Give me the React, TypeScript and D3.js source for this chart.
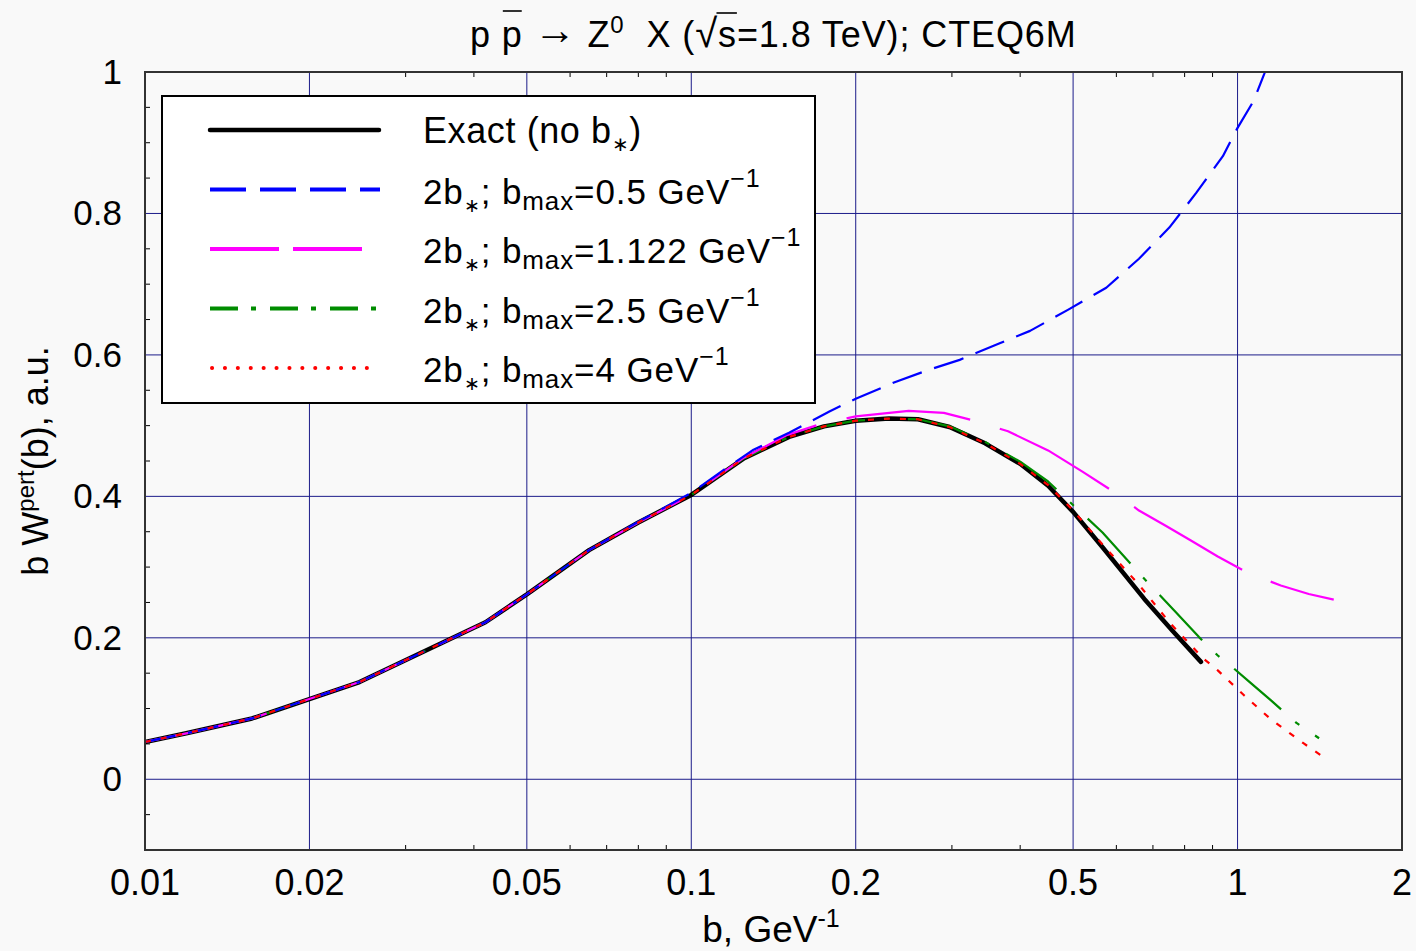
import React, { useLayoutEffect, useRef, useState } from "react";
import * as d3 from "d3";

// ---- data ----
const bExact = [0.01, 0.0119, 0.0157, 0.0247, 0.042, 0.05, 0.065, 0.08, 0.1, 0.125, 0.151, 0.175, 0.2, 0.23, 0.26, 0.297, 0.345, 0.4, 0.45, 0.5, 0.566, 0.675, 0.76, 0.857];
const wExact = [0.0527, 0.065, 0.086, 0.1375, 0.222, 0.2615, 0.324, 0.363, 0.402, 0.454, 0.484, 0.499, 0.507, 0.51, 0.509, 0.498, 0.475, 0.446, 0.415, 0.378, 0.328, 0.255, 0.21, 0.166];

const bB05 = [0.01, 0.0119, 0.0157, 0.0247, 0.042, 0.05, 0.065, 0.08, 0.1, 0.115, 0.13, 0.151, 0.179, 0.2, 0.235, 0.27, 0.31, 0.366, 0.417, 0.49, 0.575, 0.66, 0.75, 0.84, 0.94, 1.0, 1.07, 1.12, 1.16];
const wB05 = [0.0527, 0.065, 0.086, 0.1375, 0.222, 0.2615, 0.324, 0.364, 0.405, 0.438, 0.466, 0.49, 0.52, 0.538, 0.561, 0.578, 0.593, 0.616, 0.634, 0.664, 0.695, 0.736, 0.78, 0.829, 0.881, 0.921, 0.959, 0.998, 1.04];

const bB112 = [0.01, 0.0119, 0.0157, 0.0247, 0.042, 0.05, 0.065, 0.08, 0.1, 0.125, 0.15, 0.172, 0.2, 0.25, 0.29, 0.33, 0.38, 0.45, 0.52, 0.6, 0.66, 0.74, 0.82, 0.92, 1.05, 1.2, 1.35, 1.5];
const wB112 = [0.0527, 0.065, 0.086, 0.1375, 0.222, 0.2615, 0.324, 0.363, 0.402, 0.455, 0.487, 0.502, 0.513, 0.521, 0.518, 0.507, 0.492, 0.465, 0.435, 0.404, 0.38, 0.358, 0.338, 0.315, 0.291, 0.274, 0.262, 0.254];

const bB25 = [0.01, 0.0119, 0.0157, 0.0247, 0.042, 0.05, 0.065, 0.08, 0.1, 0.125, 0.151, 0.175, 0.2, 0.23, 0.26, 0.297, 0.345, 0.4, 0.45, 0.49, 0.566, 0.67, 0.765, 0.85, 0.92, 0.98, 1.05, 1.15, 1.28, 1.41];
const wB25 = [0.0527, 0.065, 0.086, 0.1375, 0.222, 0.2615, 0.324, 0.363, 0.402, 0.454, 0.484, 0.499, 0.507, 0.51, 0.509, 0.499, 0.477, 0.449, 0.421, 0.394, 0.349, 0.286, 0.239, 0.201, 0.175, 0.158, 0.138, 0.112, 0.08, 0.058];

const bB4 = [0.01, 0.0119, 0.0157, 0.0247, 0.042, 0.05, 0.065, 0.08, 0.1, 0.125, 0.151, 0.175, 0.2, 0.23, 0.26, 0.297, 0.345, 0.4, 0.45, 0.5, 0.566, 0.66, 0.75, 0.865, 0.92, 1.03, 1.15, 1.32, 1.42];
const wB4 = [0.0527, 0.065, 0.086, 0.1375, 0.222, 0.2615, 0.324, 0.363, 0.402, 0.454, 0.484, 0.499, 0.507, 0.51, 0.509, 0.498, 0.475, 0.446, 0.416, 0.38, 0.332, 0.275, 0.222, 0.171, 0.154, 0.118, 0.085, 0.051, 0.034];

const legendValues = ["0.5", "1.122", "2.5", "4"];
const xMajor = [0.01, 0.02, 0.05, 0.1, 0.2, 0.5, 1, 2];
const xMajorLabels = ["0.01", "0.02", "0.05", "0.1", "0.2", "0.5", "1", "2"];
const xMinor = [0.03, 0.04, 0.06, 0.07, 0.08, 0.09, 0.3, 0.4, 0.6, 0.7, 0.8, 0.9];
const yMajor = [0, 0.2, 0.4, 0.6, 0.8, 1];
const yMajorLabels = ["0", "0.2", "0.4", "0.6", "0.8", "1"];
const yMinor = [-0.05, 0.05, 0.1, 0.15, 0.25, 0.3, 0.35, 0.45, 0.5, 0.55, 0.65, 0.7, 0.75, 0.85, 0.9, 0.95];

const FONT = "'Liberation Sans', Arial, Helvetica, sans-serif";
const GRID = "#1c1c8a";

const L = 145, R = 1402, T = 72, B = 850;

export default function App() {
  const x = d3.scaleLog().domain([0.01, 2]).range([L, R]);
  const y = d3.scaleLinear().domain([-0.1, 1]).range([B, T]);
  const line = d3
    .line<[number, number]>()
    .x((d) => x(d[0]))
    .y((d) => y(d[1]))
    .curve(d3.curveLinear);
  const zip = (bs: number[], ws: number[]) => bs.map((b, i) => [b, ws[i]] as [number, number]);

  const series = [
    { b: bExact, w: wExact, color: "#000000", width: 4.5, dash: "none", legDash: "none", legEnd: 379 },
    { b: bB25, w: wB25, color: "#008c00", width: 2.2, dash: "62,19,5,19", legDash: "28,13,5,14", legEnd: 378 },
    { b: bB112, w: wB112, color: "#ff00ff", width: 2.2, dash: "125,31", legDash: "69,14", legEnd: 362 },
    { b: bB05, w: wB05, color: "#0000ff", width: 2.2, dash: "31,13", legDash: "36,14", legEnd: 380 },
    { b: bB4, w: wB4, color: "#ff0000", width: 2.2, dash: "6,10", legDash: "0.1,12.8", legEnd: 367 },
  ];
  const legendOrder = [0, 3, 2, 1, 4];

  const titleRef = useRef<SVGTextElement>(null);
  const [bars, setBars] = useState<null | { p0: number; p1: number; s0: number; s1: number }>(null);
  useLayoutEffect(() => {
    const t = titleRef.current;
    if (!t) return;
    const s = t.textContent || "";
    const ip = s.indexOf("p", 1);
    const iq = s.indexOf("\u221A");
    try {
      setBars({
        p0: t.getStartPositionOfChar(ip).x,
        p1: t.getEndPositionOfChar(ip).x,
        s0: t.getEndPositionOfChar(iq).x - 1.5,
        s1: t.getEndPositionOfChar(iq + 1).x,
      });
    } catch (e) {
      /* ignore */
    }
  }, []);

  return (
    <svg
      width={1416}
      height={951}
      style={{ position: "absolute", left: 0, top: 0, fontFamily: FONT }}
    >
      <rect x={0} y={0} width={1416} height={951} fill="#f9f9f9" />
      <defs>
        <clipPath id="plotclip">
          <rect x={L} y={T} width={R - L} height={B - T} />
        </clipPath>
      </defs>

      {/* grid */}
      {xMajor.slice(1, -1).map((v) => (
        <line key={"gx" + v} x1={x(v)} x2={x(v)} y1={T} y2={B} stroke={GRID} strokeWidth={1} />
      ))}
      {yMajor.slice(0, -1).map((v) => (
        <line key={"gy" + v} x1={L} x2={R} y1={y(v)} y2={y(v)} stroke={GRID} strokeWidth={1} />
      ))}

      {/* minor ticks */}
      {xMinor.map((v) => (
        <g key={"mx" + v}>
          <line x1={x(v)} x2={x(v)} y1={B} y2={B - 5} stroke="#000" strokeWidth={1} />
          <line x1={x(v)} x2={x(v)} y1={T} y2={T + 5} stroke="#000" strokeWidth={1} />
        </g>
      ))}
      {yMinor.map((v) => (
        <line key={"my" + v} x1={L} x2={L + 5} y1={y(v)} y2={y(v)} stroke="#000" strokeWidth={1} />
      ))}

      {/* curves */}
      <g clipPath="url(#plotclip)">
        {series.map((s, i) => (
          <path
            key={"c" + i}
            d={line(zip(s.b, s.w)) || ""}
            fill="none"
            stroke={s.color}
            strokeWidth={s.width}
            strokeDasharray={s.dash}
            strokeLinecap={i === 0 ? "round" : "butt"}
            strokeLinejoin="round"
          />
        ))}
      </g>

      {/* frame */}
      <rect x={L} y={T} width={R - L} height={B - T} fill="none" stroke="#333" strokeWidth={2} />

      {/* tick labels */}
      {xMajor.map((v, i) => (
        <text key={"xl" + v} x={x(v)} y={895} fontSize={36} textAnchor="middle" fill="#000">
          {xMajorLabels[i]}
        </text>
      ))}
      {yMajor.map((v, i) => (
        <text key={"yl" + v} x={122} y={y(v) + 12} fontSize={35} textAnchor="end" fill="#000">
          {yMajorLabels[i]}
        </text>
      ))}

      {/* axis titles */}
      <text x={771} y={942} fontSize={37} textAnchor="middle">
        b, GeV<tspan dy={-15} fontSize={25}>-1</tspan>
      </text>
      <text transform="translate(48,461) rotate(-90)" fontSize={36} textAnchor="middle">
        b W<tspan dy={-14} fontSize={24}>pert</tspan>
        <tspan dy={14}>(b), a.u.</tspan>
      </text>

      {/* title */}
      <text ref={titleRef} x={470} y={47} fontSize={36} letterSpacing={0.9} style={{ whiteSpace: "pre" }}>
        {"p p "}
        <tspan fontSize={42} dy={-3}>{"\u2192"}</tspan>
        <tspan dy={3}>{" Z"}</tspan>
        <tspan dy={-14} fontSize={24}>0</tspan>
        <tspan dy={14}>{"  X ("}</tspan>
        <tspan fontSize={40}>{"\u221A"}</tspan>
        {"s=1.8 TeV); CTEQ6M"}
      </text>
      {bars && (
        <g stroke="#000" strokeWidth={1.6}>
          <line x1={bars.p0 + 1} x2={bars.p1 - 1} y1={11} y2={11} />
          <line x1={bars.s0} x2={bars.s1} y1={13} y2={13} />
        </g>
      )}

      {/* legend */}
      <rect x={162} y={96} width={653} height={307} fill="#ffffff" stroke="#000" strokeWidth={2} />
      {legendOrder.map((si, row) => {
        const s = series[si];
        const ly = 130 + row * 59.5;
        return (
          <g key={"lg" + row}>
            <line
              x1={si === 4 ? 212 : 210}
              x2={s.legEnd}
              y1={ly}
              y2={ly}
              stroke={s.color}
              strokeWidth={si === 0 ? 4.5 : 4}
              strokeDasharray={s.legDash}
              strokeLinecap={si === 4 || si === 0 ? "round" : "butt"}
            />
            {row === 0 ? (
              <text x={423} y={ly + 13} fontSize={36} letterSpacing={0.6}>
                Exact (no b<tspan dy={8} fontSize={20}>{"\u2217"}</tspan>
                <tspan dy={-8}>{")"}</tspan>
              </text>
            ) : (
              <text x={423} y={ly + 14} fontSize={35} letterSpacing={0.9}>
                2b<tspan dy={8} fontSize={19}>{"\u2217"}</tspan>
                <tspan dy={-8}>{"; b"}</tspan>
                <tspan dy={6} fontSize={26}>max</tspan>
                <tspan dy={-6}>{"=" + legendValues[row - 1] + " GeV"}</tspan>
                <tspan dy={-17} fontSize={25}>{"\u22121"}</tspan>
              </text>
            )}
          </g>
        );
      })}
    </svg>
  );
}
